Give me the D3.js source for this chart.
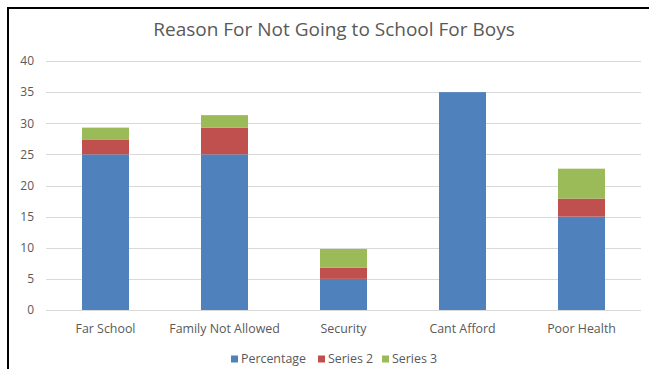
<!DOCTYPE html>
<html>
<head>
<meta charset="utf-8">
<script src="https://cdn.jsdelivr.net/npm/d3@7"></script>
<style>
  body { margin: 0; background: #fff; }
  svg { display: block; font-family: "Open Sans", sans-serif; }
</style>
</head>
<body>
<div id="chart"></div>
<script>
const categories = ['Far School', 'Family Not Allowed', 'Security', 'Cant Afford', 'Poor Health'];
const percentage = [25, 25, 5, 35, 15];
const series2 = [2.4, 4.3, 1.8, 0, 2.9];
const series3 = [1.9, 2, 3, 0, 4.8];
const seriesNames = ['Percentage', 'Series 2', 'Series 3'];
const colors = ['#4f81bd', '#c0504d', '#9bbb59'];
const yTicks = [0, 5, 10, 15, 20, 25, 30, 35, 40];

const width = 649, height = 369;
const margin = { top: 61, right: 8, bottom: 59, left: 46 };

const svg = d3.select('#chart').append('svg')
  .attr('width', width)
  .attr('height', height);

// frame (left + top edges only visible)
svg.append('path')
  .attr('d', `M8,${height} V8 H${width}`)
  .attr('fill', 'none')
  .attr('stroke', '#000')
  .attr('stroke-width', 2);

svg.append('text')
  .attr('x', 334)
  .attr('y', 36)
  .attr('text-anchor', 'middle')
  .attr('fill', '#595959')
  .style('font-size', '19px')
  .text('Reason For Not Going to School For Boys');

const x = d3.scaleBand()
  .domain(categories)
  .range([margin.left, width - margin.right])
  .paddingInner(0.605)
  .paddingOuter(0.3025);

const y = d3.scaleLinear()
  .domain([0, 40])
  .range([height - margin.bottom, margin.top]);

// gridlines
svg.append('g')
  .selectAll('line')
  .data(yTicks)
  .join('line')
  .attr('x1', margin.left)
  .attr('x2', width - margin.right)
  .attr('y1', d => Math.round(y(d)) + 0.5)
  .attr('y2', d => Math.round(y(d)) + 0.5)
  .attr('stroke', '#d9d9d9')
  .attr('stroke-width', 1);

// y axis labels
const yAxis = svg.append('g')
  .attr('transform', `translate(${margin.left - 12},0)`)
  .call(d3.axisLeft(y).tickValues(yTicks).tickSize(0).tickPadding(0));
yAxis.select('.domain').remove();
yAxis.selectAll('text')
  .attr('fill', '#595959')
  .style('font-size', '12px')
  .style('font-family', '"Open Sans", sans-serif');

// stacked bars
const rows = categories.map((c, i) => ({
  cat: c,
  'Percentage': percentage[i],
  'Series 2': series2[i],
  'Series 3': series3[i]
}));
const stacked = d3.stack().keys(seriesNames)(rows);

svg.append('g')
  .selectAll('g')
  .data(stacked)
  .join('g')
  .attr('fill', (d, i) => colors[i])
  .selectAll('rect')
  .data(d => d)
  .join('rect')
  .attr('x', d => x(d.data.cat))
  .attr('width', x.bandwidth())
  .attr('y', d => y(d[1]))
  .attr('height', d => y(d[0]) - y(d[1]));

// x axis
const xAxis = svg.append('g')
  .attr('transform', `translate(0,${height - margin.bottom})`)
  .call(d3.axisBottom(x).tickSize(0).tickPadding(14));
xAxis.select('.domain').remove();
xAxis.selectAll('text')
  .attr('fill', '#595959')
  .style('font-size', '12.4px')
  .style('font-family', '"Open Sans", sans-serif');

// legend
const legendX = [231, 318, 382];
const legend = svg.append('g')
  .selectAll('g')
  .data(seriesNames)
  .join('g')
  .attr('transform', (d, i) => `translate(${legendX[i]},359)`);
legend.append('rect')
  .attr('x', 0).attr('y', -3.5)
  .attr('width', 7).attr('height', 7)
  .attr('fill', (d, i) => colors[i]);
legend.append('text')
  .attr('x', 10)
  .attr('dy', '0.35em')
  .attr('fill', '#595959')
  .style('font-size', '12.4px')
  .text(d => d);
</script>
</body>
</html>
